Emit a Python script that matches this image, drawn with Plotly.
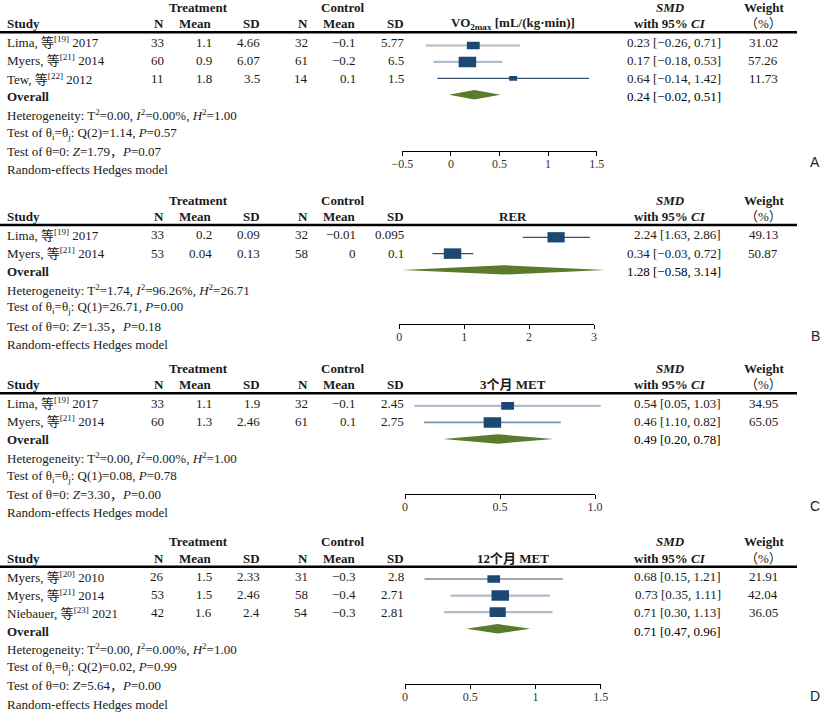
import math
import plotly.graph_objects as go

W, H = 823, 714
SERIF = "Liberation Serif, Times New Roman, Noto Sans CJK SC, serif"
INK = "#1a1a1a"
BOX = "#1d4873"
DIAMOND = "#5a7b2d"
CI_TONE = {"light": ("#aebbc8", 2.2), "mid": ("#7a92aa", 1.6), "dark": ("#34506c", 1.2)}

# ---------------- data ----------------
# A: VO2max
a_study = ["Lima, 等<sup>[19]</sup> 2017", "Myers, 等<sup>[21]</sup> 2014", "Tew, 等<sup>[22]</sup> 2012"]
a_t_n = [33, 60, 11]
a_t_mean = [1.1, 0.9, 1.8]
a_t_sd = [4.66, 6.07, 3.5]
a_c_n = [32, 61, 14]
a_c_mean = [-0.1, -0.2, 0.1]
a_c_sd = [5.77, 6.5, 1.5]
a_smd = [0.23, 0.17, 0.64]
a_lo = [-0.26, -0.18, -0.14]
a_hi = [0.71, 0.53, 1.42]
a_weight = [31.02, 57.26, 11.73]
a_overall = [0.24, -0.02, 0.51]
a_het = [0.00, 0.00, 1.00]
a_q = [2, 1.14, 0.57]
a_z = [1.79, 0.07]
a_ticks = [-0.5, 0, 0.5, 1, 1.5]
a_ticktext = ["−0.5", "0", "0.5", "1", "1.5"]

# B: RER
b_study = ["Lima, 等<sup>[19]</sup> 2017", "Myers, 等<sup>[21]</sup> 2014"]
b_t_n = [33, 53]
b_t_mean = [0.2, 0.04]
b_t_sd = [0.09, 0.13]
b_c_n = [32, 58]
b_c_mean = [-0.01, 0]
b_c_sd = [0.095, 0.1]
b_smd = [2.24, 0.34]
b_lo = [1.63, -0.03]
b_hi = [2.86, 0.72]
b_weight = [49.13, 50.87]
b_overall = [1.28, -0.58, 3.14]
b_het = [1.74, 96.26, 26.71]
b_q = [1, 26.71, 0.00]
b_z = [1.35, 0.18]
b_ticks = [0, 1, 2, 3]
b_ticktext = ["0", "1", "2", "3"]

# C: 3-month MET
c_study = ["Lima, 等<sup>[19]</sup> 2017", "Myers, 等<sup>[21]</sup> 2014"]
c_t_n = [33, 60]
c_t_mean = [1.1, 1.3]
c_t_sd = [1.9, 2.46]
c_c_n = [32, 61]
c_c_mean = [-0.1, 0.1]
c_c_sd = [2.45, 2.75]
c_smd = [0.54, 0.46]
c_lo = [0.05, 0.10]
c_lo_printed = [0.05, 1.10]
c_hi = [1.03, 0.82]
c_weight = [34.95, 65.05]
c_overall = [0.49, 0.20, 0.78]
c_het = [0.00, 0.00, 1.00]
c_q = [1, 0.08, 0.78]
c_z = [3.30, 0.00]
c_ticks = [0, 0.5, 1.0]
c_ticktext = ["0", "0.5", "1.0"]

# D: 12-month MET
d_study = ["Myers, 等<sup>[20]</sup> 2010", "Myers, 等<sup>[21]</sup> 2014", "Niebauer, 等<sup>[23]</sup> 2021"]
d_t_n = [26, 53, 42]
d_t_mean = [1.5, 1.5, 1.6]
d_t_sd = [2.33, 2.46, 2.4]
d_c_n = [31, 58, 54]
d_c_mean = [-0.3, -0.4, -0.3]
d_c_sd = [2.8, 2.71, 2.81]
d_smd = [0.68, 0.73, 0.71]
d_lo = [0.15, 0.35, 0.30]
d_hi = [1.21, 1.11, 1.13]
d_weight = [21.91, 42.04, 36.05]
d_overall = [0.71, 0.47, 0.96]
d_het = [0.00, 0.00, 1.00]
d_q = [2, 0.02, 0.99]
d_z = [5.64, 0.00]
d_ticks = [0, 0.5, 1, 1.5]
d_ticktext = ["0", "0.5", "1", "1.5"]


def num(v, nd=None):
    s = str(v) if nd is None else f"{v:.{nd}f}"
    return s.replace("-", "−")


def stats_lines(het, q, z):
    return [
        f"Heterogeneity: T<sup>2</sup>={het[0]:.2f}, <i>I</i><sup>2</sup>={het[1]:.2f}%, <i>H</i><sup>2</sup>={het[2]:.2f}",
        f"Test of θ<sub>i</sub>=θ<sub>j</sub>: Q({q[0]})={q[1]:.2f}, <i>P</i>={q[2]:.2f}",
        f"Test of θ=0: <i>Z</i>={z[0]:.2f}，<i>P</i>={z[1]:.2f}",
        "Random-effects Hedges model",
    ]


panels = [
    dict(letter="A", title="VO<sub>2max</sub> [mL/(kg·min)]", study=a_study,
         cols=[a_t_n, a_t_mean, a_t_sd, a_c_n, a_c_mean, a_c_sd],
         smd=a_smd, lo=a_lo, lo_txt=a_lo, hi=a_hi, w=a_weight, ov=a_overall,
         stats=stats_lines(a_het, a_q, a_z), ticks=a_ticks, ticktext=a_ticktext,
         top=7.3, axis_py=150.5, tick_px=(402.3, 596.7), zero=450.9, ppu=97.2,
         my0=45.5, mdy=16.4, tone=["light", "light", "dark"]),
    dict(letter="B", title="RER", study=b_study,
         cols=[b_t_n, b_t_mean, b_t_sd, b_c_n, b_c_mean, b_c_sd],
         smd=b_smd, lo=b_lo, lo_txt=b_lo, hi=b_hi, w=b_weight, ov=b_overall,
         stats=stats_lines(b_het, b_q, b_z), ticks=b_ticks, ticktext=b_ticktext,
         top=200, axis_py=324, tick_px=(399.3, 594), zero=434, ppu=54.5,
         my0=237.3, mdy=16.3, tone=["dark", "dark"]),
    dict(letter="C", title="3个月 MET", study=c_study,
         cols=[c_t_n, c_t_mean, c_t_sd, c_c_n, c_c_mean, c_c_sd],
         smd=c_smd, lo=c_lo, lo_txt=c_lo_printed, hi=c_hi, w=c_weight, ov=c_overall,
         stats=stats_lines(c_het, c_q, c_z), ticks=c_ticks, ticktext=c_ticktext,
         top=368.3, axis_py=494, tick_px=(405, 595), zero=405, ppu=190,
         my0=405.8, mdy=16.6, tone=["light", "mid"]),
    dict(letter="D", title="12个月 MET", study=d_study,
         cols=[d_t_n, d_t_mean, d_t_sd, d_c_n, d_c_mean, d_c_sd],
         smd=d_smd, lo=d_lo, lo_txt=d_lo, hi=d_hi, w=d_weight, ov=d_overall,
         stats=stats_lines(d_het, d_q, d_z), ticks=d_ticks, ticktext=d_ticktext,
         top=541.7, axis_py=684, tick_px=(405, 600.7), zero=405, ppu=130.5,
         my0=579, mdy=16.6, tone=["dark", "light", "light"]),
]

# column positions (px)
COL_RIGHT = [166, 213.5, 262, 310, 358, 406]
COL_HEAD = ["N", "Mean", "SD", "N", "Mean", "SD"]
SMD_RIGHT = 722.7
W_RIGHT = 780
ROW_DY = 18.1
STAT_DY = 18.3

annotations = []
shapes = []
traces = []
layout_axes = {}


def txt(px, py, s, anchor="left", size=13, color=INK, family=SERIF):
    annotations.append(dict(x=px / W, y=1 - py / H, xref="paper", yref="paper",
                            text=s, showarrow=False, xanchor=anchor, yanchor="middle",
                            font=dict(family=family, size=size, color=color)))


def ax_id(letter, n):
    return letter if n == 1 else f"{letter}{n}"


for k, p in enumerate(panels):
    top = p["top"]
    n = len(p["study"])
    h1, h2, rule = top, top + 16.5, top + 25

    # headers
    txt(198, h1, "<b>Treatment</b>", "center")
    txt(342, h1, "<b>Control</b>", "center")
    txt(670, h1, "<b><i>SMD</i></b>", "center")
    txt(763.5, h1, "<b>Weight</b>", "center")
    txt(5, h2, "<b>Study</b>")
    for xr, head in zip(COL_RIGHT, COL_HEAD):
        txt(xr, h2, f"<b>{head}</b>", "right")
    txt(513, h2, f"<b>{p['title']}</b>", "center")
    txt(670, h2, "<b>with 95% <i>CI</i></b>", "center")
    txt(763.5, h2, "（%）", "center")
    shapes.append(dict(type="line", xref="paper", yref="paper", x0=0, x1=797 / W,
                       y0=1 - rule / H, y1=1 - rule / H, line=dict(color="black", width=2.5)))

    # table rows
    for i in range(n):
        py = top + 35 + ROW_DY * i
        txt(5, py, p["study"][i])
        for xr, col in zip(COL_RIGHT, p["cols"]):
            txt(xr, py, num(col[i]), "right")
        txt(SMD_RIGHT, py, f"{num(p['smd'][i], 2)} [{num(p['lo_txt'][i], 2)}, {num(p['hi'][i], 2)}]", "right")
        txt(W_RIGHT, py, f"{p['w'][i]:.2f}", "right")
    py_ov = top + 35 + ROW_DY * n
    txt(5, py_ov, "<b>Overall</b>")
    est, olo, ohi = p["ov"]
    txt(SMD_RIGHT, py_ov, f"{num(est, 2)} [{num(olo, 2)}, {num(ohi, 2)}]", "right", color="black")
    for j, line in enumerate(p["stats"]):
        txt(5, py_ov + STAT_DY * (j + 1), line)
    txt(815, p["axis_py"] + 11.5, p["letter"], "center", size=14,
        color="#222", family="Liberation Sans, Arial, sans-serif")

    # axes
    xm_n, xt_n, y_n = 2 * k + 1, 2 * k + 2, k + 1
    xm, xt, ya = ax_id("x", xm_n), ax_id("x", xt_n), ax_id("y", y_n)
    z, ppu = p["zero"], p["ppu"]
    layout_axes[f"xaxis{xm_n}"] = dict(domain=[380 / W, 620 / W],
                                       range=[(380 - z) / ppu, (620 - z) / ppu],
                                       visible=False, anchor=ya, fixedrange=True)
    tx0, tx1 = p["tick_px"]
    layout_axes[f"xaxis{xt_n}"] = dict(domain=[tx0 / W, tx1 / W],
                                       range=[p["ticks"][0], p["ticks"][-1]],
                                       anchor=ya, showline=True, linecolor="black", linewidth=1,
                                       ticks="outside", ticklen=4, tickwidth=1, tickcolor="black",
                                       tickvals=p["ticks"], ticktext=p["ticktext"],
                                       ticklabelstandoff=-2,
                                       tickfont=dict(family=SERIF, size=12, color="#333"),
                                       showgrid=False, zeroline=False, fixedrange=True)
    ay = p["axis_py"]
    layout_axes[f"yaxis{y_n}"] = dict(domain=[1 - ay / H, 1 - rule / H],
                                      range=[(ay - p["my0"]) / p["mdy"], (rule - p["my0"]) / p["mdy"]],
                                      visible=False, anchor=xm, fixedrange=True)

    # invisible anchor trace so the tick axis is drawn
    traces.append(go.Scatter(x=[p["ticks"][0]], y=[0], xaxis=xt, yaxis=ya, mode="markers",
                             marker=dict(opacity=0), hoverinfo="skip", showlegend=False))

    # CI lines + boxes
    wmax = max(p["w"])
    for i in range(n):
        color, width = CI_TONE[p["tone"][i]]
        traces.append(go.Scatter(x=[p["lo"][i], p["hi"][i]], y=[i, i], xaxis=xm, yaxis=ya,
                                 mode="lines", line=dict(color=color, width=width),
                                 hoverinfo="skip", showlegend=False))
        s = math.sqrt(p["w"][i] / wmax)
        bw, bh = 17.5 * s, 10.5 * s
        shapes.append(dict(type="rect", xref=xm, yref=ya,
                           xsizemode="pixel", xanchor=p["smd"][i], x0=-bw / 2, x1=bw / 2,
                           ysizemode="pixel", yanchor=i, y0=-bh / 2, y1=bh / 2,
                           fillcolor=BOX, line=dict(width=0)))
    # overall diamond
    shapes.append(dict(type="path", xref=xm, yref=ya, ysizemode="pixel", yanchor=n,
                       path=f"M{olo},0 L{est},4.7 L{ohi},0 L{est},-4.7 Z",
                       fillcolor=DIAMOND, line=dict(width=0)))

fig = go.Figure(data=traces)
fig.update_layout(
    width=W, height=H,
    margin=dict(l=0, r=0, t=0, b=0, pad=0, autoexpand=False),
    paper_bgcolor="white", plot_bgcolor="rgba(0,0,0,0)",
    showlegend=False,
    annotations=annotations,
    shapes=shapes,
    **layout_axes,
)
fig.write_html("out.html", config={"displayModeBar": False},
               post_script="document.body.style.margin = '0';")
